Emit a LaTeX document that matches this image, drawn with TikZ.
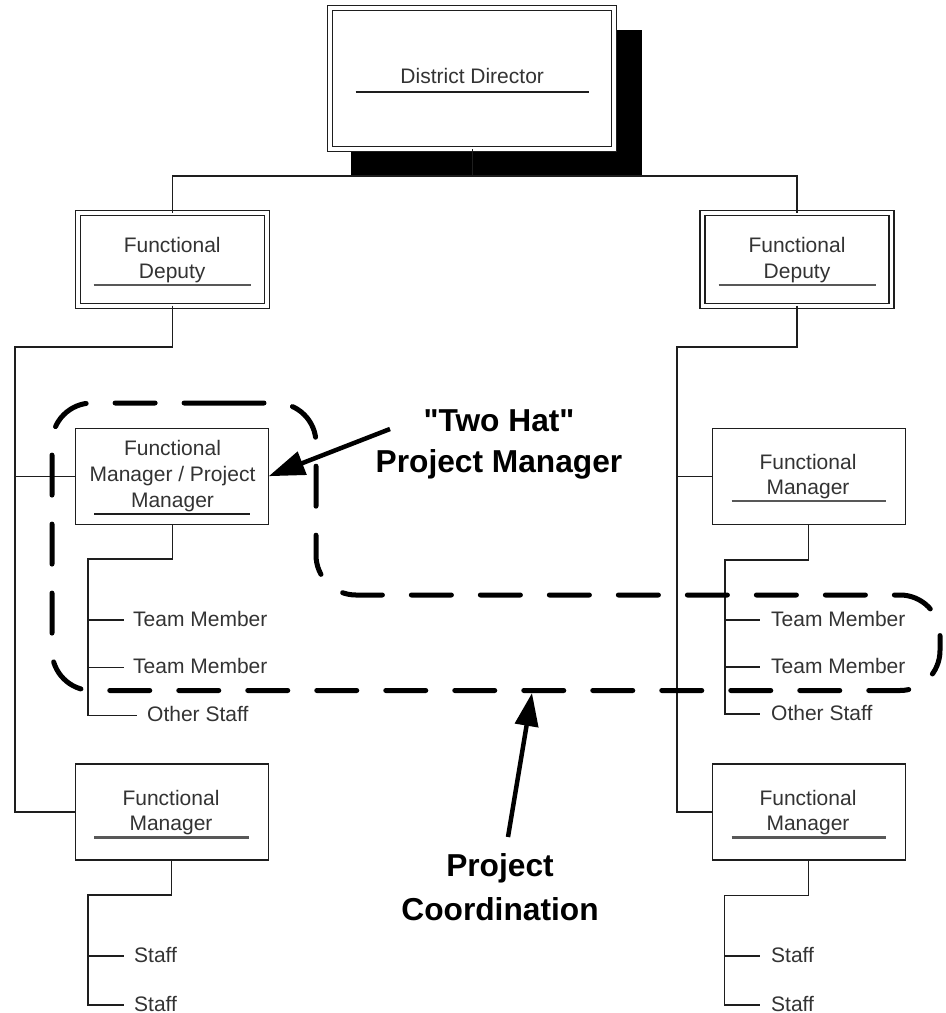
\documentclass[tikz,border=0pt]{standalone}
\usepackage{fontspec}
\setmainfont{Liberation Sans}
\usetikzlibrary{arrows.meta,backgrounds}

\definecolor{ink}{HTML}{1E1E1E}
\definecolor{txtc}{HTML}{333333}
\definecolor{rulec}{HTML}{585858}

% underline drawn across the lower part of a box: node, side inset, rise above bottom
\newcommand\drawboxrule[4][rulec]{%
  \draw[draw=#1, line width=2.3pt]
    ([shift={(#3,-#4)}]#2.south west) -- ([shift={(-#3,-#4)}]#2.south east);}

\begin{document}
\begin{tikzpicture}[x=1pt, y=-1pt,
  conn/.style={draw=ink, line width=1.4pt},
  plainbox/.style={draw=ink, line width=1.4pt, fill=white, inner sep=0pt,
    outer sep=0pt, minimum width=193pt, minimum height=96pt},
  dblbox/.style={draw=ink, line width=1.4pt, double=white, double distance=3.6pt,
    fill=white, inner sep=0pt, outer sep=0pt},
  boxtext/.style={text=txtc, font=\fontsize{21}{25.5}\selectfont, inner sep=0pt,
    align=center, anchor=base},
  leaf/.style={text=txtc, font=\fontsize{21}{25.5}\selectfont, inner sep=0pt,
    text height=13pt, text depth=1pt, anchor=west},
  region/.style={draw=black, line width=5pt, dash pattern=on 40pt off 29pt,
    line cap=round, rounded corners=40pt},
  callout/.style={draw=black, line width=4.5pt},
  calloutlabel/.style={text=black, font=\fontsize{31.7}{41}\selectfont\bfseries,
    inner sep=0pt, align=center, anchor=base}
]
\useasboundingbox (0,0) rectangle (946,1013);

% ---- boxes ----
\node[dblbox, minimum width=284pt, minimum height=141pt] (dd) at (472.2,78.7) {};
\node[dblbox, minimum width=189pt, minimum height=93pt] (dl) at (172.2,259.2) {};
\node[dblbox, minimum width=189pt, minimum height=93pt] (dr) at (797,259.2) {};
\node[plainbox] (fmpm) at (172.2,476.2) {};
\node[plainbox] (fmr)  at (808.7,476.2) {};
\node[plainbox] (fml2) at (171.7,812) {};
\node[plainbox] (fmr2) at (808.7,812) {};

% shadow behind the director box
\begin{scope}[on background layer]
  \fill[black] ([shift={(20.8,26.5)}]dd.south west) rectangle ([shift={(27.5,21.8)}]dd.north east);
\end{scope}

% ---- box texts (anchored on the baseline of their last line) and underlines ----
\node[boxtext] (dd-t) at (472.2,83.5) {District Director};
\drawboxrule[ink]{dd}{25.5}{57.5}
\node[boxtext] (dl-t) at (172.2,278) {Functional\\Deputy};
\drawboxrule{dl}{16}{20.6}
\node[boxtext] (dr-t) at (797,278) {Functional\\Deputy};
\drawboxrule{dr}{16}{20.6}
\node[boxtext, font=\fontsize{21}{26.3}\selectfont] (fmpm-t) at (172.5,507.6)
  {Functional\\Manager / Project\\Manager};
\drawboxrule[ink]{fmpm}{18.5}{10}
\node[boxtext] (fmr-t) at (808,494.8) {Functional\\Manager};
\drawboxrule{fmr}{19.5}{23}
\node[boxtext] (fml2-t) at (171,830.5) {Functional\\Manager};
\drawboxrule{fml2}{19}{22.5}
\node[boxtext] (fmr2-t) at (808,830.5) {Functional\\Manager};
\drawboxrule{fmr2}{19.5}{22.5}

% ---- leaves ----
\node[leaf] (tm1) at (133,620)   {Team Member};
\node[leaf] (tm2) at (133,667.7) {Team Member};
\node[leaf] (os1) at (147,715.7) {Other Staff};
\node[leaf] (tm3) at (771,620)   {Team Member};
\node[leaf] (tm4) at (771,667)   {Team Member};
\node[leaf] (os2) at (771,714)   {Other Staff};
\node[leaf] (st1) at (134,956)   {Staff};
\node[leaf] (st2) at (134,1005)  {Staff};
\node[leaf] (st3) at (771,956)   {Staff};
\node[leaf] (st4) at (771,1005)  {Staff};

% ---- tree connectors ----
\coordinate (bus) at (472.2,176);
\draw[conn] (dd.south) -- (bus);
\draw[conn] (dl.north) |- (bus) -| (dr.north);

\coordinate (lt) at (15,347);
\draw[conn] (dl.south) |- (lt) |- (fml2.west);
\draw[conn] (fmpm.west) -- (lt |- fmpm.west);
\coordinate (rt) at (677,347);
\draw[conn] (dr.south) |- (rt) |- (fmr2.west);
\draw[conn] (fmr.west) -- (rt |- fmr.west);

\coordinate (ls1) at (88,559);
\draw[conn] (fmpm.south) |- (ls1) |- ([xshift=-10pt]os1.west);
\draw[conn] (ls1 |- tm1.west) -- ([xshift=-9pt]tm1.west);
\draw[conn] (ls1 |- tm2.west) -- ([xshift=-9pt]tm2.west);

\coordinate (rs1) at (725,560);
\draw[conn] (fmr.south) |- (rs1) |- ([xshift=-11pt]os2.west);
\draw[conn] (rs1 |- tm3.west) -- ([xshift=-11pt]tm3.west);
\draw[conn] (rs1 |- tm4.west) -- ([xshift=-11pt]tm4.west);

\coordinate (ls2) at (88,895);
\draw[conn] (fml2.south) |- (ls2) |- ([xshift=-10pt]st2.west);
\draw[conn] (ls2 |- st1.west) -- ([xshift=-10pt]st1.west);

\coordinate (rs2) at (724.5,895.7);
\draw[conn] (fmr2.south) |- (rs2) |- ([xshift=-11pt]st4.west);
\draw[conn] (rs2 |- st3.west) -- ([xshift=-11pt]st3.west);

% ---- project coordination region ----
\draw[region] (184,403) -- (316,403) -- (316,595) -- (940,595) -- (940,690.5)
  -- (52,690.5) -- (52,403) -- cycle;

% ---- callouts ----
\node[calloutlabel] (th-l) at (499,472) {\textquotedbl Two Hat\textquotedbl\\Project Manager};
\coordinate (th-tail) at (390,429);
\draw[callout, -{Triangle[length=36pt,width=24pt]}] (th-tail) -- (fmpm.east);

\node[calloutlabel, font=\fontsize{31.7}{44}\selectfont\bfseries] (pc-l) at (500,920)
  {Project\\Coordination};
\coordinate (pc-tail) at (508,837);
\coordinate (pc-tip) at (532,693);
\draw[callout, -{Triangle[length=33pt,width=23pt]}] (pc-tail) -- (pc-tip);
\end{tikzpicture}
\end{document}
